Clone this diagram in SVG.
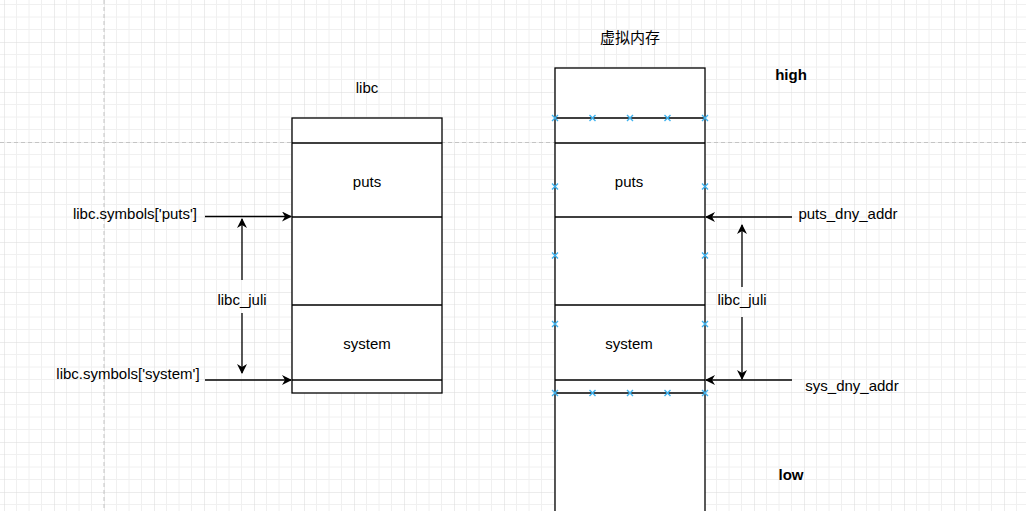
<svg xmlns="http://www.w3.org/2000/svg" width="1026" height="511" viewBox="0 0 1026 511">
<style>
.t{font-family:"Liberation Sans",Arial,"Noto Sans CJK SC",sans-serif;font-size:15px;fill:#000;text-anchor:middle;dominant-baseline:central}
.b{font-weight:bold}
.box{fill:#fff;stroke:#000;stroke-width:1.3}
.ln{stroke:#000;stroke-width:1.3;fill:none}
.ar{stroke:#000;stroke-width:1.3;fill:none;marker-end:url(#ah)}
.x{stroke:#3fb3ef;stroke-width:1.4;fill:none}
</style>
<defs>
<pattern id="grid" patternUnits="userSpaceOnUse" x="4" y="42" width="50" height="50">
<path d="M12.5 0V50M25 0V50M37.5 0V50M0 12.5H50M0 25H50M0 37.5H50" stroke="#f0f0f0" stroke-width="1" fill="none"/>
<path d="M0 0V50M0 0H50" stroke="#dadada" stroke-width="1" fill="none"/>
</pattern>
<marker id="ah" viewBox="0 0 10 10" refX="9" refY="5" markerWidth="10" markerHeight="10" markerUnits="userSpaceOnUse" orient="auto">
<path d="M0 0L10 5L0 10L3 5Z" fill="#000"/>
</marker>
<path id="xm" d="M-3 -3L3 3M-3 3L3 -3"/>
</defs>
<rect width="1026" height="511" fill="#fff"/>
<rect width="1026" height="511" fill="url(#grid)"/>
<path d="M104 0V511M0 142.5H1026" stroke="#c4c4c4" stroke-width="1" stroke-dasharray="4 3" fill="none"/>

<g id="libc-label"><text class="t" x="367" y="87">libc</text></g>
<g id="vmem-label"><text class="t" x="630" y="37">虚拟内存</text></g>
<g id="high-label"><text class="t b" x="791" y="74">high</text></g>
<g id="low-label"><text class="t b" x="791" y="474">low</text></g>

<g id="libc-box">
<rect class="box" x="292" y="118" width="150" height="275"/>
<path class="ln" d="M292 143H442M292 217H442M292 305H442M292 380H442"/>
<text class="t" x="367" y="181">puts</text>
<text class="t" x="367" y="343">system</text>
</g>

<g id="vmem-box">
<rect class="box" x="555" y="68" width="150" height="460"/>
<path class="ln" d="M555 118H705M555 143H705M555 217H705M555 305H705M555 380H705M555 393H705"/>
<text class="t" x="629" y="181">puts</text>
<text class="t" x="629" y="343">system</text>
</g>

<g id="selection-points">
<use href="#xm" class="x" x="555" y="118"/><use href="#xm" class="x" x="592.5" y="118"/><use href="#xm" class="x" x="630" y="118"/><use href="#xm" class="x" x="667.5" y="118"/><use href="#xm" class="x" x="705" y="118"/>
<use href="#xm" class="x" x="555" y="393"/><use href="#xm" class="x" x="592.5" y="393"/><use href="#xm" class="x" x="630" y="393"/><use href="#xm" class="x" x="667.5" y="393"/><use href="#xm" class="x" x="705" y="393"/>
<use href="#xm" class="x" x="555" y="186.5"/><use href="#xm" class="x" x="555" y="255.5"/><use href="#xm" class="x" x="555" y="324"/>
<use href="#xm" class="x" x="705" y="186.5"/><use href="#xm" class="x" x="705" y="255.5"/><use href="#xm" class="x" x="705" y="324"/>
</g>

<g id="label-puts-sym"><text class="t" x="135" y="213">libc.symbols['puts']</text></g>
<g id="label-sys-sym"><text class="t" x="128" y="373">libc.symbols['system']</text></g>
<g id="label-puts-dny"><text class="t" x="848" y="213">puts_dny_addr</text></g>
<g id="label-sys-dny"><text class="t" x="852" y="385">sys_dny_addr</text></g>

<g id="connectors">
<path class="ar" d="M205 216.5H291"/>
<path class="ar" d="M205 380H291"/>
<path class="ar" d="M242 280V219"/>
<path class="ar" d="M242 313V373"/>
<path class="ar" d="M792 217H706"/>
<path class="ar" d="M792 380H706"/>
<path class="ar" d="M742 287V225"/>
<path class="ar" d="M742 317V379"/>
</g>
<g id="juli-labels">
<text class="t" x="242" y="299">libc_juli</text>
<text class="t" x="742" y="299">libc_juli</text>
</g>
</svg>
